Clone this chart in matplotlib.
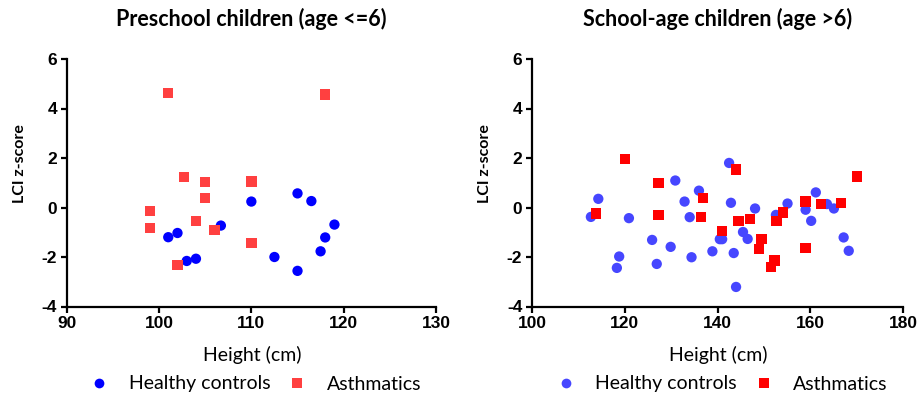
import matplotlib
matplotlib.use("Agg")
import matplotlib.pyplot as plt
from matplotlib.lines import Line2D

# ---- Data: Preschool children (age <= 6) ----
pre_healthy_height = [101.0, 102.0, 103.0, 104.0, 106.7, 110.0, 112.5, 115.0, 116.5, 115.0, 119.0, 118.0, 117.5]
pre_healthy_lci = [-1.20, -1.03, -2.16, -2.07, -0.73, 0.24, -2.00, 0.57, 0.26, -2.56, -0.69, -1.21, -1.77]
pre_asthma_height = [101.0, 118.0, 102.7, 105.0, 105.0, 110.0, 99.0, 99.0, 104.0, 106.0, 110.0, 102.0]
pre_asthma_lci = [4.64, 4.57, 1.23, 1.04, 0.38, 1.05, -0.15, -0.82, -0.54, -0.90, -1.44, -2.32]

# ---- Data: School-age children (age > 6) ----
sch_healthy_height = [114.3, 112.7, 120.9, 118.8, 118.3, 125.9, 126.9, 129.9, 130.9, 132.9,
                      134.0, 136.0, 134.4, 138.9, 140.5, 141.0, 142.5, 142.9, 143.5, 144.0,
                      145.5, 146.5, 148.1, 152.6, 155.1, 159.0, 160.2, 161.2, 163.6, 165.1,
                      167.2, 168.3]
sch_healthy_lci = [0.35, -0.38, -0.43, -1.98, -2.44, -1.31, -2.28, -1.59, 1.09, 0.24,
                   -0.39, 0.68, -2.01, -1.77, -1.28, -1.28, 1.80, 0.19, -1.84, -3.21,
                   -0.99, -1.27, -0.04, -0.30, 0.16, -0.09, -0.54, 0.61, 0.14, -0.04,
                   -1.21, -1.75]
sch_asthma_height = [120.0, 144.0, 170.1, 127.3, 136.9, 113.8, 127.3, 136.4, 144.5, 147.0,
                     152.7, 154.1, 159.0, 162.3, 166.7, 140.9, 149.5, 149.0, 159.0, 152.3,
                     151.5]
sch_asthma_lci = [1.97, 1.53, 1.25, 0.99, 0.37, -0.24, -0.31, -0.37, -0.54, -0.47,
                  -0.54, -0.20, 0.24, 0.15, 0.19, -0.94, -1.26, -1.68, -1.63, -2.14,
                  -2.40]

titles = ["Preschool children (age <=6)", "School-age children (age >6)"]
xlims = [(90, 130), (100, 180)]
xticks = [[90, 100, 110, 120, 130], [100, 120, 140, 160, 180]]
yticks = [-4, -2, 0, 2, 4, 6]
legend_labels = ["Healthy controls", "Asthmatics"]

W, H = 919, 397
fig = plt.figure(figsize=(W / 100, H / 100), dpi=100)

def px_axes(x0, x1, ytop, ybot):
    return fig.add_axes([x0 / W, 1 - ybot / H, (x1 - x0) / W, (ybot - ytop) / H])

tick_kw = dict(family=["Liberation Sans", "DejaVu Sans"], fontweight="bold", fontsize=12.5)
label_font = ["Lato", "DejaVu Sans"]

axes_px = [(66.7, 436.0), (532.0, 903.0)]
colors = [("#0000ff", "#ff4040"), ("#4646ff", "#ff0000")]
datasets = [
    (pre_healthy_height, pre_healthy_lci, pre_asthma_height, pre_asthma_lci),
    (sch_healthy_height, sch_healthy_lci, sch_asthma_height, sch_asthma_lci),
]

for i, (x0, x1) in enumerate(axes_px):
    ax = px_axes(x0, x1, 59.0, 306.5)
    hx, hy, ax_, ay = datasets[i]
    ch, ca = colors[i]
    ax.scatter(hx, hy, marker="o", s=55, color=ch, edgecolors="none", zorder=3, clip_on=False)
    ax.scatter(ax_, ay, marker="s", s=55, color=ca, edgecolors="none", zorder=3, clip_on=False)
    ax.set_xlim(*xlims[i])
    ax.set_ylim(-4, 6)
    ax.set_xticks(xticks[i], labels=[str(t) for t in xticks[i]], **tick_kw)
    ax.set_yticks(yticks, labels=[str(t) for t in yticks], **tick_kw)
    for s in ["top", "right"]:
        ax.spines[s].set_visible(False)
    for s in ["left", "bottom"]:
        ax.spines[s].set_linewidth(1.6)
        ax.spines[s].set_color("black")
    ax.tick_params(direction="out", length=4, width=1.6, pad=3)
    xc = (x0 + x1) / 2
    fig.text(xc / W, 1 - 19 / H, titles[i], ha="center", va="center",
             family=label_font, weight="bold", fontsize=15.5)
    fig.text((xc + 1) / W, 1 - 355 / H, "Height (cm)", ha="center", va="center",
             family=label_font, fontsize=14)
    fig.text((x0 - 47) / W, 1 - 164 / H, "LCI z-score", ha="center", va="center",
             rotation=90, family=label_font, weight="bold", fontsize=11.5)
    handles = [
        Line2D([], [], marker="o", linestyle="none", color=ch, markersize=7, markeredgewidth=0),
        Line2D([], [], marker="s", linestyle="none", color=ca, markersize=7, markeredgewidth=0),
    ]
    fig.legend(handles, legend_labels, loc="center", ncol=2,
               bbox_to_anchor=((xc + 4) / W, 1 - 384 / H), frameon=False,
               prop=dict(family=label_font, size=14),
               handletextpad=1.0, columnspacing=0.9, handlelength=1.0,
               borderpad=0, borderaxespad=0)

fig.savefig("out.png", dpi=100)
